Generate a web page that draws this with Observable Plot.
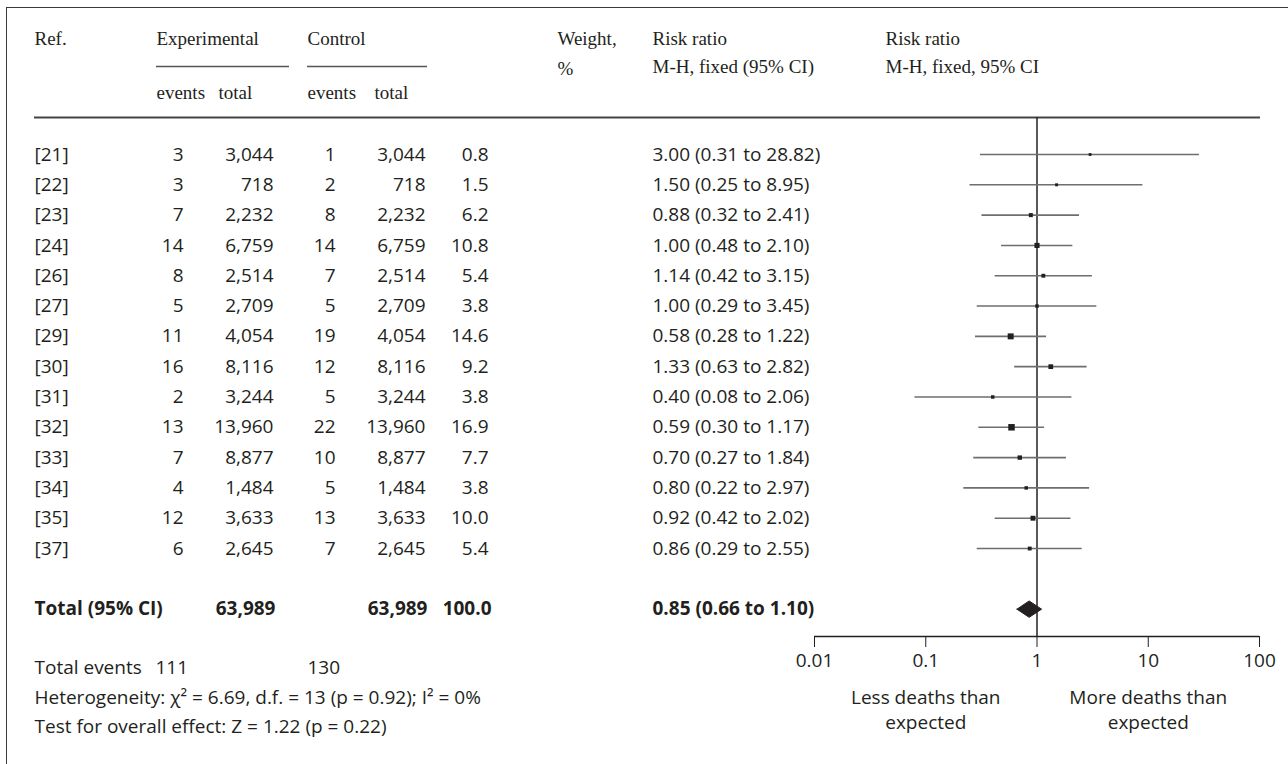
<!DOCTYPE html>
<html><head><meta charset="utf-8">
<script src="https://cdn.jsdelivr.net/npm/d3@7"></script>
<script src="https://cdn.jsdelivr.net/npm/@observablehq/plot@0.6"></script>
<style>
body{margin:0;background:#fff}
#wrap{position:relative;width:1288px;height:764px;overflow:hidden;background:#fff}
#border{position:absolute;left:6px;top:7px;width:1400px;height:900px;border-top:1.5px solid #3a3a3a;border-left:1.5px solid #3a3a3a}
#chart{position:absolute;left:0;top:0}
</style></head><body>
<div id="wrap"><div id="border"></div><div id="chart"></div></div>
<script>
// ---- data ----
const refs = ["[21]","[22]","[23]","[24]","[26]","[27]","[29]","[30]","[31]","[32]","[33]","[34]","[35]","[37]"];
const expEvents = [3,3,7,14,8,5,11,16,2,13,7,4,12,6];
const expTotal = [3044,718,2232,6759,2514,2709,4054,8116,3244,13960,8877,1484,3633,2645];
const ctrlEvents = [1,2,8,14,7,5,19,12,5,22,10,5,13,7];
const ctrlTotal = [3044,718,2232,6759,2514,2709,4054,8116,3244,13960,8877,1484,3633,2645];
const weights = [0.8,1.5,6.2,10.8,5.4,3.8,14.6,9.2,3.8,16.9,7.7,3.8,10.0,5.4];
const riskRatio = [3.00,1.50,0.88,1.00,1.14,1.00,0.58,1.33,0.40,0.59,0.70,0.80,0.92,0.86];
const ciLow = [0.31,0.25,0.32,0.48,0.42,0.29,0.28,0.63,0.08,0.30,0.27,0.22,0.42,0.29];
const ciHigh = [28.82,8.95,2.41,2.10,3.15,3.45,1.22,2.82,2.06,1.17,1.84,2.97,2.02,2.55];
const totalLabel = "Total (95% CI)";
const totalExp = 63989, totalCtrl = 63989, totalWeight = 100.0;
const totalRR = 0.85, totalLow = 0.66, totalHigh = 1.10;
const totalExpEvents = 111, totalCtrlEvents = 130;
const heterogeneity = "Heterogeneity: χ² = 6.69, d.f. = 13 (p = 0.92); I² = 0%";
const overallEffect = "Test for overall effect: Z = 1.22 (p = 0.22)";
const xTicks = [0.01, 0.1, 1, 10, 100];
const leftNote = ["Less deaths than", "expected"];
const rightNote = ["More deaths than", "expected"];

// ---- build ----
const fmt = d3.format(",");
const f2 = d => d.toFixed(2);
const rows = refs.map((ref, i) => ({
  ref, row: i,
  ee: expEvents[i], et: fmt(expTotal[i]), ce: ctrlEvents[i], ct: fmt(ctrlTotal[i]),
  w: weights[i], wt: weights[i].toFixed(1),
  rr: riskRatio[i], lo: ciLow[i], hi: ciHigh[i],
  rrText: `${f2(riskRatio[i])} (${f2(ciLow[i])} to ${f2(ciHigh[i])})`
}));
const totalRow = refs.length + 1; // blank row before total
const diamond = [
  {x: totalLow, y: totalRow}, {x: totalRR, y: totalRow - 0.27},
  {x: totalHigh, y: totalRow}, {x: totalRR, y: totalRow + 0.27}, {x: totalLow, y: totalRow}
];

const ink = "#231f20";
const sans = "'Open Sans', 'Noto Sans', sans-serif";
const serif = "'Liberation Serif', serif";
const FS = 19;
const y0 = 154, rh = 30.31;            // row layout (pixels)
const R = px => (px - y0) / rh;        // pixel -> row units for labels

const txt = (text, row, dx, anchor = "start", extra = {}) =>
  Plot.text([text], {text: d => d, y: () => row, frameAnchor: "left", dx, textAnchor: anchor,
    fontSize: FS, fontFamily: sans, fill: ink, ...extra});
const col = (field, dx, anchor) =>
  Plot.text(rows, {text: field, y: "row", frameAnchor: "left", dx, textAnchor: anchor,
    fontSize: FS, fontFamily: sans, fill: ink});
const hdr = (text, row, dx) => txt(text, row, dx, "start", {fontFamily: serif});

const chart = Plot.plot({
  width: 1288, height: 764,
  marginTop: 0, marginLeft: 0, marginRight: 0, marginBottom: 128,
  x: {type: "log", domain: [0.01, 100], range: [814, 1259], ticks: xTicks,
      tickFormat: d3.format("~g"), tickSize: 11, tickPadding: 6, label: null},
  y: {domain: [-5, 20], range: [y0 - 5 * rh, y0 + 20 * rh], axis: null},
  r: {type: "linear", domain: [0.8, 16.9], range: [1.58, 3.67]},
  style: {background: "transparent", color: ink, fontSize: FS + "px", fontFamily: sans},
  marks: [
    // header
    hdr("Ref.", R(38), 34),
    hdr("Experimental", R(38), 156),
    hdr("Control", R(38), 307),
    hdr("Weight,", R(38), 557),
    hdr("%", R(68), 557),
    hdr("Risk ratio", R(38), 652),
    hdr("M-H, fixed (95% CI)", R(66), 652),
    hdr("Risk ratio", R(38), 885),
    hdr("M-H, fixed, 95% CI", R(66), 885),
    hdr("events", R(92), 156), hdr("total", R(92), 218),
    hdr("events", R(92), 307), hdr("total", R(92), 374),
    Plot.ruleY([R(66)], {insetLeft: 156, insetRight: 1288 - 289, stroke: "#555", strokeWidth: 1.5}),
    Plot.ruleY([R(66)], {insetLeft: 307, insetRight: 1288 - 427, stroke: "#555", strokeWidth: 1.5}),
    Plot.ruleY([R(117)], {insetLeft: 34, insetRight: 1288 - 1260, stroke: "#444", strokeWidth: 2}),
    // study rows
    col("ref", 34, "start"),
    col("ee", 183, "end"),
    col("et", 273, "end"),
    col("ce", 335, "end"),
    col("ct", 425, "end"),
    col("wt", 488, "end"),
    col("rrText", 652, "start"),
    // total row
    txt(totalLabel, totalRow, 34, "start", {fontWeight: "bold"}),
    txt(fmt(totalExp), totalRow, 275, "end", {fontWeight: "bold"}),
    txt(fmt(totalCtrl), totalRow, 427, "end", {fontWeight: "bold"}),
    txt(totalWeight.toFixed(1), totalRow, 491, "end", {fontWeight: "bold"}),
    txt(`${f2(totalRR)} (${f2(totalLow)} to ${f2(totalHigh)})`, totalRow, 652, "start", {fontWeight: "bold"}),
    // forest
    Plot.ruleX([1], {y1: R(117), y2: R(636), stroke: ink, strokeWidth: 1.5}),
    Plot.ruleY(rows, {y: "row", x1: "lo", x2: "hi", stroke: "#6e6e6e", strokeWidth: 1.6}),
    Plot.dot(rows, {x: "rr", y: "row", r: "w", symbol: "square", fill: ink, stroke: null}),
    Plot.line(diamond, {x: "x", y: "y", fill: ink, stroke: ink, strokeWidth: 1}),
    Plot.ruleY([R(636)], {x1: 0.01, x2: 100, stroke: ink, strokeWidth: 1.5}),
    // axis notes
    Plot.text([leftNote[0], leftNote[1]], {text: d => d, x: () => 0.1, y: (d, i) => R(697 + 25 * i), fontSize: FS, fontFamily: sans, fill: ink}),
    Plot.text([rightNote[0], rightNote[1]], {text: d => d, x: () => 10, y: (d, i) => R(697 + 25 * i), fontSize: FS, fontFamily: sans, fill: ink}),
    // footer
    txt("Total events", R(667), 34),
    txt(String(totalExpEvents), R(667), 155),
    txt(String(totalCtrlEvents), R(667), 307),
    txt(heterogeneity, R(697), 34),
    txt(overallEffect, R(726), 34)
  ]
});
document.getElementById("chart").appendChild(chart);
</script>
</body></html>
